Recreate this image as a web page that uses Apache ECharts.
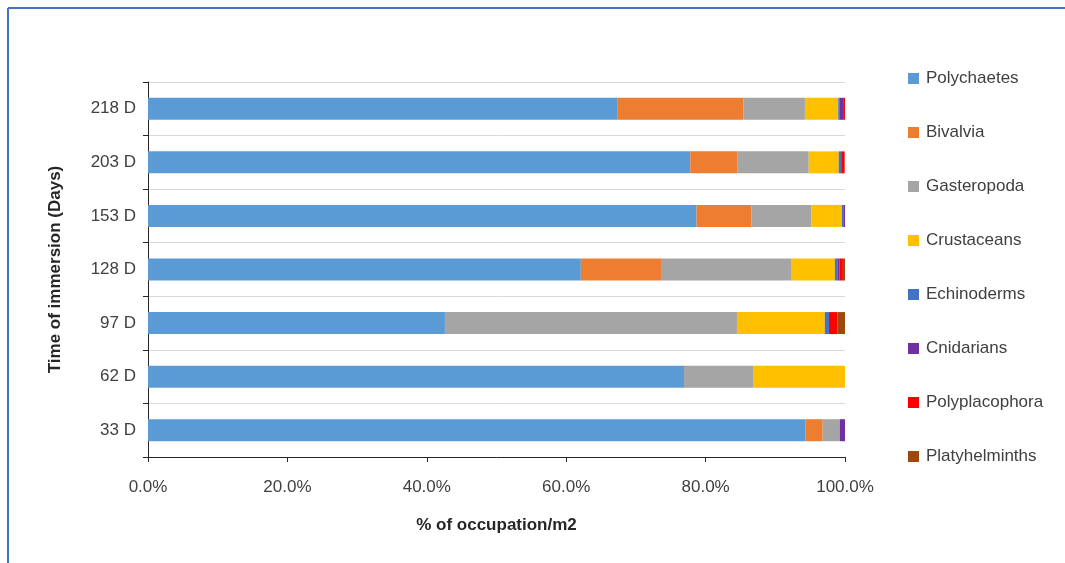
<!DOCTYPE html>
<html>
<head>
<meta charset="utf-8">
<script src="https://cdn.jsdelivr.net/npm/echarts@6/dist/echarts.min.js"></script>
<style>
  html, body { margin: 0; padding: 0; background: #fff; }
  #chart { width: 1065px; height: 563px; }
</style>
</head>
<body>
<div id="chart"></div>
<script>
// immersion times, bottom to top
const days = ["33 D", "62 D", "97 D", "128 D", "153 D", "203 D", "218 D"];

const groups = ["Polychaetes", "Bivalvia", "Gasteropoda", "Crustaceans", "Echinoderms", "Cnidarians", "Polyplacophora", "Platyhelminths"];
const colors = ["#5B9BD5", "#ED7D31", "#A5A5A5", "#FFC000", "#4472C4", "#7030A0", "#FF0000", "#9E480E"];

// % of occupation per group, same order as days
const polychaetes    = [94.3, 76.9, 42.6, 62.1, 78.7, 77.8, 67.4];
const bivalvia       = [2.5, 0, 0, 11.5, 7.9, 6.8, 18.0];
const gasteropoda    = [2.45, 10.0, 41.9, 18.65, 8.55, 10.2, 8.85];
const crustaceans    = [0, 13.1, 12.6, 6.3, 4.4, 4.3, 4.78];
const echinoderms    = [0, 0, 0.6, 0.35, 0.2, 0.35, 0.15];
const cnidarians     = [0.75, 0, 0, 0.3, 0.25, 0, 0.55];
const polyplacophora = [0, 0, 1.2, 0.5, 0, 0.5, 0.27];
const platyhelminths = [0, 0, 1.1, 0.3, 0, 0, 0];

const values = [polychaetes, bivalvia, gasteropoda, crustaceans, echinoderms, cnidarians, polyplacophora, platyhelminths];

const chart = echarts.init(document.getElementById("chart"));
const font = "'Liberation Sans', Arial, sans-serif";

const option = {
  animation: false,
  backgroundColor: "#fff",
  textStyle: {fontFamily: font},
  graphic: [
    {type: "line", shape: {x1: 8, y1: 8, x2: 1065, y2: 8}, style: {stroke: "#4472C4", lineWidth: 2}},
    {type: "line", shape: {x1: 8, y1: 8, x2: 8, y2: 563}, style: {stroke: "#4472C4", lineWidth: 2}}
  ],
  grid: {left: 148, right: 220, top: 82, bottom: 106},
  legend: {
    orient: "vertical",
    left: 903,
    top: 65,
    itemWidth: 11,
    itemHeight: 11,
    itemGap: 37,
    icon: "rect",
    data: groups,
    textStyle: {fontFamily: font, fontSize: 17, color: "#404040", padding: [0, 0, 0, 2]}
  },
  xAxis: {
    type: "value",
    min: 0,
    max: 100,
    interval: 20,
    name: "% of occupation/m2",
    nameLocation: "middle",
    nameGap: 60,
    nameTextStyle: {fontFamily: font, fontSize: 17, fontWeight: "bold", color: "#262626"},
    axisLine: {show: true, lineStyle: {color: "#262626"}},
    axisTick: {show: true, length: 5, lineStyle: {color: "#262626"}},
    axisLabel: {fontFamily: font, fontSize: 17, color: "#404040", margin: 22, formatter: (v) => v.toFixed(1) + "%"},
    splitLine: {show: false}
  },
  yAxis: {
    type: "category",
    data: days,
    name: "Time of immersion (Days)",
    nameLocation: "middle",
    nameGap: 84,
    nameTextStyle: {fontFamily: font, fontSize: 17, fontWeight: "bold", color: "#262626"},
    axisLine: {show: true, lineStyle: {color: "#262626"}},
    axisTick: {show: true, length: 5, lineStyle: {color: "#262626"}},
    axisLabel: {fontFamily: font, fontSize: 17, color: "#404040", margin: 12},
    splitLine: {show: true, lineStyle: {color: "#D9D9D9"}}
  },
  series: groups.map((g, i) => ({
    name: g,
    type: "bar",
    stack: "total",
    barWidth: 22,
    itemStyle: {color: colors[i]},
    data: values[i]
  }))
};
chart.setOption(option);
</script>
</body>
</html>
